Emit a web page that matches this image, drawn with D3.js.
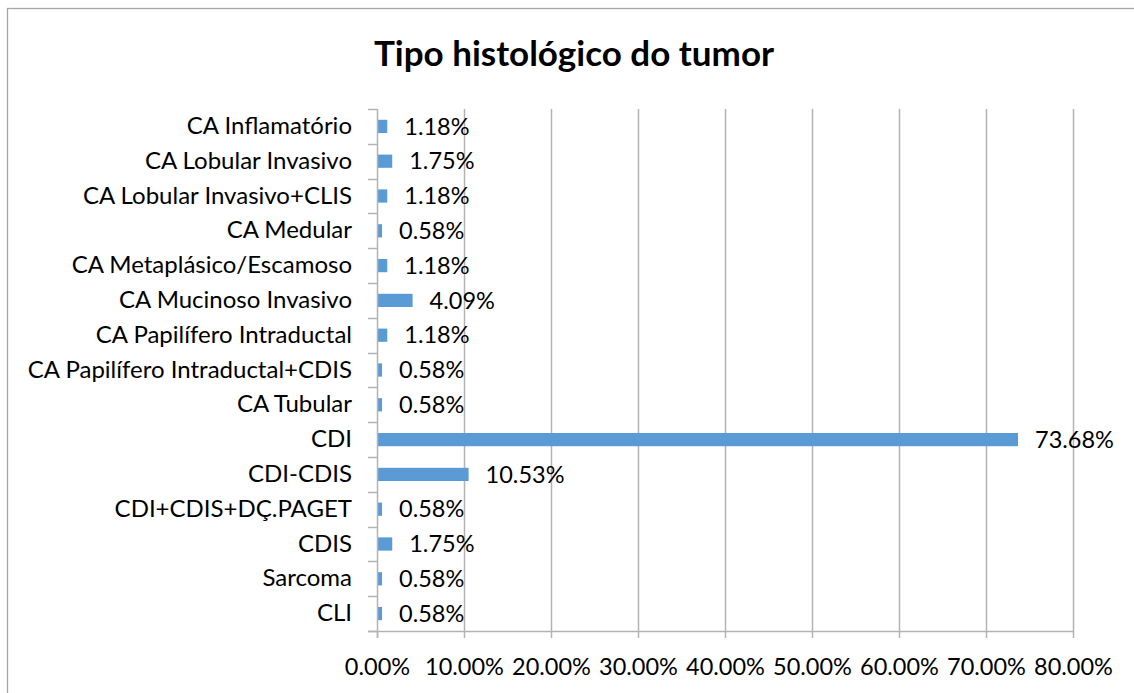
<!DOCTYPE html>
<html><head><meta charset="utf-8">
<script src="https://cdn.jsdelivr.net/npm/d3@7"></script>
<style>body{margin:0;background:#fff;} svg{display:block;}</style>
</head><body>
<svg id="c" width="1134" height="693"></svg>
<script>
const categories = ["CA Inflamatório","CA Lobular Invasivo","CA Lobular Invasivo+CLIS","CA Medular","CA Metaplásico/Escamoso","CA Mucinoso Invasivo","CA Papilífero Intraductal","CA Papilífero Intraductal+CDIS","CA Tubular","CDI","CDI-CDIS","CDI+CDIS+DÇ.PAGET","CDIS","Sarcoma","CLI"];
const values = [1.18,1.75,1.18,0.58,1.18,4.09,1.18,0.58,0.58,73.68,10.53,0.58,1.75,0.58,0.58];
const xTicks = [0,10,20,30,40,50,60,70,80];
const title = "Tipo histológico do tumor";

const svg = d3.select("#c");
const FONT = "Lato, 'Open Sans', sans-serif";
const L = 377, R = 1073, T = 109, B = 631;

svg.append("rect").attr("x",7.5).attr("y",8.5).attr("width",1140).attr("height",700)
  .attr("fill","#fff").attr("stroke","#a6a6a6").attr("stroke-width",1.3);

const x = d3.scaleLinear().domain([0,80]).range([L,R]);
const y = d3.scaleBand().domain(categories).range([T,B]).paddingInner(0.62).paddingOuter(0.31);
const yb = d3.scaleBand().domain(categories).range([T,B]);

// gridlines
svg.append("g").selectAll("line").data(xTicks.slice(1)).join("line")
  .attr("x1",d=>Math.round(x(d))+0.5).attr("x2",d=>Math.round(x(d))+0.5)
  .attr("y1",T).attr("y2",B).attr("stroke","#b3b3b3").attr("stroke-width",1.5);

// bars
svg.append("g").selectAll("rect").data(values).join("rect")
  .attr("x",x(0)).attr("y",(d,i)=>y(categories[i]))
  .attr("width",d=>x(d)-x(0)).attr("height",y.bandwidth()).attr("fill","#5b9bd5");

// x axis
const xa = svg.append("g").attr("transform",`translate(0,${B})`)
  .call(d3.axisBottom(x).tickValues(xTicks).tickSize(7).tickPadding(20).tickFormat(d=>d.toFixed(2)+"%"));
xa.select(".domain").remove();
xa.selectAll(".tick line").attr("stroke","#b3b3b3").attr("stroke-width",1.5);
xa.selectAll("text").attr("font-family",FONT).attr("font-size",23.5).attr("fill","#000");
svg.append("line").attr("x1",368).attr("x2",R+0.75).attr("y1",B+0.5).attr("y2",B+0.5).attr("stroke","#b3b3b3").attr("stroke-width",1.5);

// y axis
const ya = svg.append("g").attr("transform",`translate(${L},0)`)
  .call(d3.axisLeft(yb).tickSize(0).tickPadding(25));
ya.select(".domain").remove();
ya.selectAll("text").attr("font-family",FONT).attr("font-size",24).attr("fill","#000");
svg.append("line").attr("x1",L+0.5).attr("x2",L+0.5).attr("y1",T).attr("y2",B+7).attr("stroke","#b3b3b3").attr("stroke-width",1.5);
const bounds = categories.map(c=>yb(c)).concat([B]);
svg.append("g").selectAll("line").data(bounds).join("line")
  .attr("x1",368).attr("x2",L).attr("y1",d=>Math.round(d)+0.5).attr("y2",d=>Math.round(d)+0.5)
  .attr("stroke","#b3b3b3").attr("stroke-width",1.5);

// value labels
svg.append("g").selectAll("text").data(values).join("text")
  .attr("x",d=>x(d)+17).attr("y",(d,i)=>yb(categories[i])+yb.bandwidth()/2)
  .attr("dy","0.35em").attr("font-family",FONT).attr("font-size",23.5).attr("fill","#000")
  .text(d=>d.toFixed(2)+"%");

// title
svg.append("text").attr("x",574).attr("y",66).attr("text-anchor","middle")
  .attr("font-family",FONT).attr("font-weight","bold").attr("font-size",35).attr("fill","#000").text(title);
</script>
</body></html>
